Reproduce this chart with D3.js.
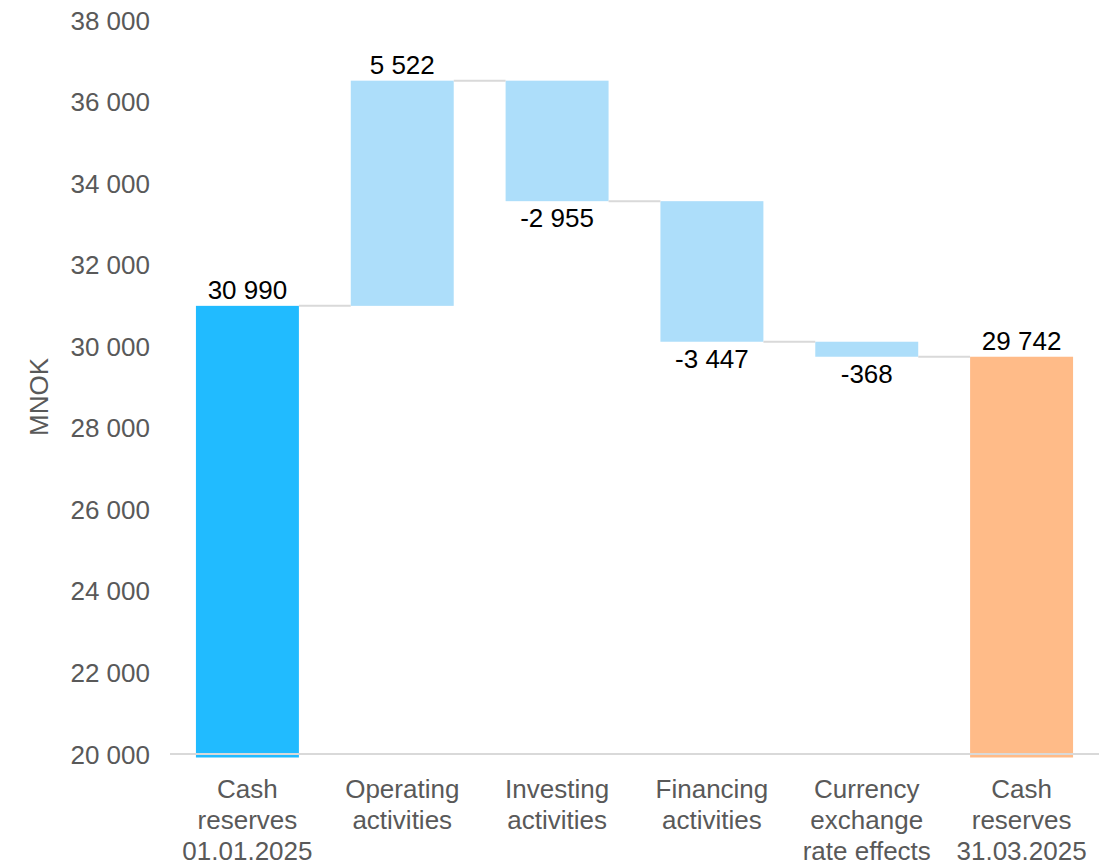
<!DOCTYPE html>
<html>
<head>
<meta charset="utf-8">
<script src="https://cdn.jsdelivr.net/npm/d3@7"></script>
<style>
  html, body { margin: 0; padding: 0; background: #fff; }
  svg { display: block; }
  text { font-family: "Liberation Sans", Arial, sans-serif; }
</style>
</head>
<body>
<svg id="chart" width="1107" height="865"></svg>
<script>
// ---- Data ----
const categories = [
  ["Cash", "reserves", "01.01.2025"],
  ["Operating", "activities"],
  ["Investing", "activities"],
  ["Financing", "activities"],
  ["Currency", "exchange", "rate effects"],
  ["Cash", "reserves", "31.03.2025"]
];
const values = [30990, 5522, -2955, -3447, -368, 29742];
const kinds = ["start", "delta", "delta", "delta", "delta", "end"];
const yTicks = [20000, 22000, 24000, 26000, 28000, 30000, 32000, 34000, 36000, 38000];
const yTitle = "MNOK";

// ---- Layout ----
const plot = { left: 170, right: 1099, top: 20, bottom: 754 };
const colors = { start: "#21bbff", delta: "#addefa", end: "#ffbb88" };
const fmt = v => d3.format(",")(v).replace(/,/g, " ").replace("\u2212", "-");

const svg = d3.select("#chart");

const x = d3.scaleBand()
  .domain(d3.range(categories.length))
  .range([plot.left, plot.right])
  .paddingInner(0.335)
  .paddingOuter(0.1675);

const y = d3.scaleLinear()
  .domain([20000, 38000])
  .range([plot.bottom, plot.top]);

// compute waterfall segments
let running = 0;
const segs = values.map((v, i) => {
  let y0, y1;
  if (kinds[i] === "start" || kinds[i] === "end") {
    y0 = 0; y1 = v; running = v;
  } else {
    y0 = running; y1 = running + v; running = y1;
  }
  return { i, v, y0, y1, kind: kinds[i] };
});

// Y axis (tick labels only)
const yAxis = d3.axisLeft(y)
  .tickValues(yTicks)
  .tickSize(0)
  .tickPadding(0)
  .tickFormat(d => fmt(d));

const gy = svg.append("g")
  .attr("transform", `translate(${plot.left - 20},0)`)
  .call(yAxis);
gy.select(".domain").remove();
gy.selectAll("text")
  .attr("fill", "#595959")
  .style("font-size", "26px")
  .attr("dy", "0.35em");

// Y axis title
svg.append("text")
  .attr("transform", `translate(48,${(plot.top + plot.bottom) / 2 + 10}) rotate(-90)`)
  .attr("text-anchor", "middle")
  .attr("fill", "#595959")
  .style("font-size", "26px")
  .text(yTitle);

// Bars
svg.append("g").selectAll("rect")
  .data(segs)
  .join("rect")
  .attr("x", d => x(d.i))
  .attr("width", x.bandwidth())
  .attr("y", d => y(Math.max(d.y0, d.y1)))
  .attr("height", d => {
    const lo = Math.max(Math.min(d.y0, d.y1), 20000);
    const extra = (d.kind === "delta") ? 0 : 3.5;
    return y(lo) - y(Math.max(d.y0, d.y1)) + extra;
  })
  .attr("fill", d => colors[d.kind]);

// Connectors
const conns = segs.slice(0, -1).map((d, k) => ({ from: d, to: segs[k + 1], level: d.y1 }));
svg.append("g").selectAll("line")
  .data(conns)
  .join("line")
  .attr("x1", d => x(d.from.i) + x.bandwidth())
  .attr("x2", d => x(d.to.i))
  .attr("y1", d => y(d.level))
  .attr("y2", d => y(d.level))
  .attr("stroke", "#d9d9d9")
  .attr("stroke-width", 2);

// Baseline
svg.append("line")
  .attr("x1", plot.left).attr("x2", plot.right)
  .attr("y1", y(20000)).attr("y2", y(20000))
  .attr("stroke", "#d9d9d9")
  .attr("stroke-width", 2);

// Value labels
svg.append("g").selectAll("text")
  .data(segs)
  .join("text")
  .attr("x", d => x(d.i) + x.bandwidth() / 2)
  .attr("y", d => d.v >= 0 ? y(Math.max(d.y0, d.y1)) - 16 : y(Math.min(d.y0, d.y1)) + 17)
  .attr("dy", "0.35em")
  .attr("text-anchor", "middle")
  .attr("fill", "#000")
  .style("font-size", "26px")
  .text(d => fmt(d.v));

// Category labels
const gx = svg.append("g");
categories.forEach((lines, i) => {
  const t = gx.append("text")
    .attr("text-anchor", "middle")
    .attr("fill", "#595959")
    .style("font-size", "26px");
  lines.forEach((ln, j) => {
    t.append("tspan")
      .attr("x", x(i) + x.bandwidth() / 2)
      .attr("y", 789 + j * 31)
      .attr("dy", "0.35em")
      .text(ln);
  });
});
</script>
</body>
</html>
